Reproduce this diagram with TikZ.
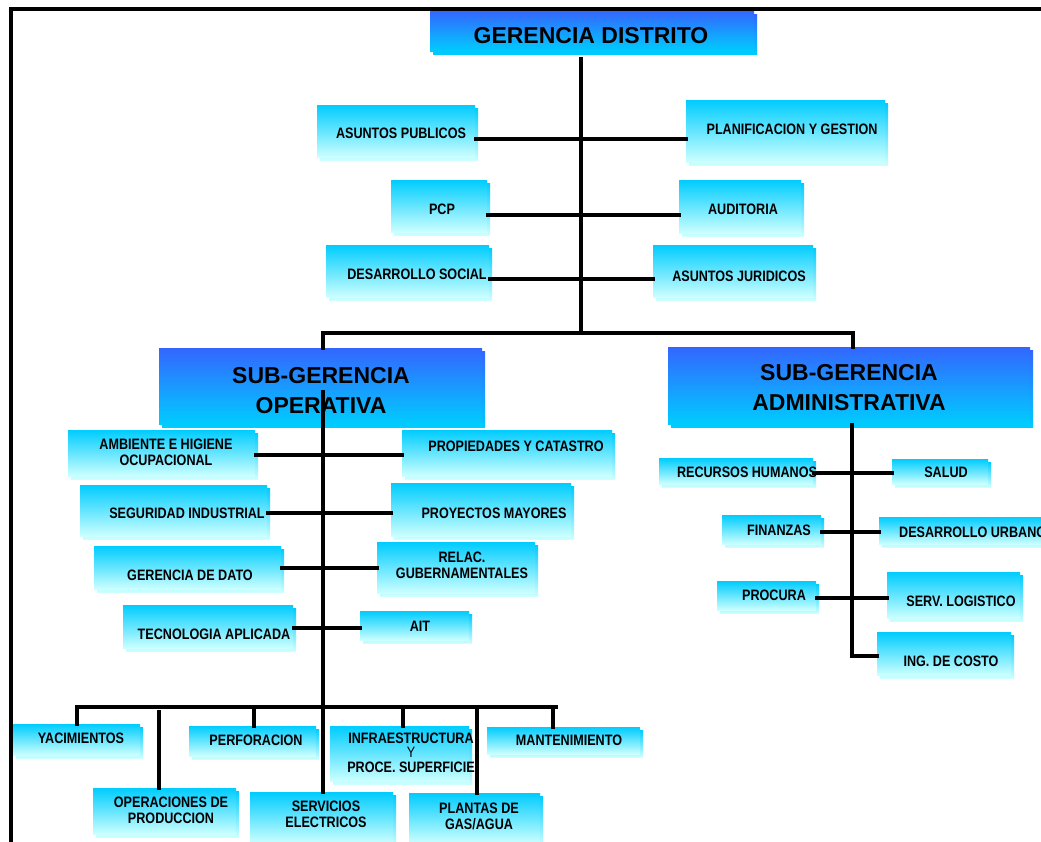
\documentclass[tikz,border=0pt]{standalone}
\usepackage{graphicx}
\usepackage{fontspec}
\setmainfont{Liberation Sans}
\usetikzlibrary{shadows}

\definecolor{boxtop}{HTML}{00CCFF}
\definecolor{boxbot}{HTML}{CCFFFF}
\definecolor{headtop}{HTML}{3366FF}
\definecolor{headbot}{HTML}{00CCFF}

% small unit box: cyan to pale cyan, with an offset copy behind it
\tikzset{
  lbox/.style={rectangle, inner sep=0pt, draw=none,
    top color=boxtop, bottom color=boxbot,
    general shadow={shadow xshift=3pt, shadow yshift=-3pt,
      top color=boxtop, bottom color=boxbot}},
  hbox/.style={rectangle, inner sep=0pt, draw=none,
    top color=headtop, bottom color=headbot,
    general shadow={shadow xshift=3pt, shadow yshift=-3pt,
      top color=headtop, bottom color=headbot}},
  lbl/.style={inner sep=0pt, yshift=-2.2pt, font=\bfseries},
  link/.style={line width=3.4pt, line cap=rect},
}

% \ubox{name}{x1}{y1}{x2}{y2}{style}: box spanning x1..x2, y1..y2 (offset copy included)
\newcommand\ubox[6]{%
  \node[#6, minimum width={#4-#2-3}, minimum height={#5-#3-3}]
    (#1) at ({(#2+#4-3)/2},{(#3+#5-3)/2}) {};}
\newcommand\sm[1]{\scalebox{1}[1.2]{\fontsize{12.6}{13.5}\selectfont
  \begin{tabular}{@{}c@{}}#1\end{tabular}}}
\newcommand\bg[1]{{\fontsize{23}{30}\selectfont
  \begin{tabular}{@{}c@{}}#1\end{tabular}}}

\begin{document}
\begin{tikzpicture}[x=1pt, y=-1pt]
\useasboundingbox (0,0) rectangle (1041,841);
\clip (0,0) rectangle (1041,841);
\fill[white] (0,0) rectangle (1041,841);

% frame
\draw[line width=3.4pt] (11,845) -- (11,9) -- (1045,9);

% ---------- district management ----------
\ubox{gd}{430}{11}{757}{54}{hbox}
\node[lbl] (gd-t) at (591,35) {\bg{GERENCIA DISTRITO}};

\ubox{ap}{317}{105}{478}{160}{lbox}
\ubox{pg}{686}{100}{888}{165}{lbox}
\ubox{pcp}{391}{180}{490}{235}{lbox}
\ubox{aud}{679}{180}{804}{236}{lbox}
\ubox{ds}{326}{245}{492}{300}{lbox}
\ubox{aj}{653}{245}{816}{300}{lbox}

\node[lbl] (ap-t)  at (401,133) {\sm{ASUNTOS PUBLICOS}};
\node[lbl] (pg-t)  at (792,129) {\sm{PLANIFICACION Y GESTION}};
\node[lbl] (pcp-t) at (442,209) {\sm{PCP}};
\node[lbl] (aud-t) at (743,209) {\sm{AUDITORIA}};
\node[lbl] (ds-t)  at (417,274) {\sm{DESARROLLO SOCIAL}};
\node[lbl] (aj-t)  at (739,276) {\sm{ASUNTOS JURIDICOS}};

\coordinate (gtop) at (581,59);
\coordinate (jm) at (581,333);
\coordinate (jl) at (323,333);
\coordinate (jr) at (853,333);

\draw[link] (gtop) -- (jm);
\draw[link] (ap.east |- 0,139) -- (pg.west |- 0,139);
\draw[link] (pcp.east |- 0,215) -- (aud.west |- 0,215);
\draw[link] (ds.east |- 0,279) -- (aj.west |- 0,279);

% ---------- sub-managements ----------
\ubox{sgo}{159}{348}{485}{427}{hbox}
\ubox{sga}{668}{347}{1033}{427}{hbox}
\node[lbl] (sgo-t) at (321,390) {\bg{SUB-GERENCIA\\OPERATIVA}};
\node[lbl] (sga-t) at (849,387) {\bg{SUB-GERENCIA\\ADMINISTRATIVA}};

\draw[link] (sgo.north -| jl) -- (jl) -- (jr) -- (sga.north -| jr);

% ---------- operative branch ----------
\ubox{amb}{68}{430}{258}{479}{lbox}
\ubox{prop}{402}{430}{615}{479}{lbox}
\ubox{seg}{80}{485}{270}{539}{lbox}
\ubox{proy}{391}{483}{574}{539}{lbox}
\ubox{gdd}{94}{546}{284}{592}{lbox}
\ubox{rel}{377}{542}{538}{596}{lbox}
\ubox{tec}{123}{605}{296}{651}{lbox}
\ubox{ait}{360}{611}{472}{643}{lbox}

\node[lbl] (amb-t)  at (166,452) {\sm{AMBIENTE E HIGIENE\\OCUPACIONAL}};
\node[lbl] (prop-t) at (516,446) {\sm{PROPIEDADES Y CATASTRO}};
\node[lbl] (seg-t)  at (187,513) {\sm{SEGURIDAD INDUSTRIAL}};
\node[lbl] (proy-t) at (494,513) {\sm{PROYECTOS MAYORES}};
\node[lbl] (gdd-t)  at (190,575) {\sm{GERENCIA DE DATO}};
\node[lbl] (rel-t)  at (462,565) {\sm{RELAC.\\GUBERNAMENTALES}};
\node[lbl] (tec-t)  at (214,634) {\sm{TECNOLOGIA APLICADA}};
\node[lbl] (ait-t)  at (420,626) {\sm{AIT}};

% bottom row of units
\ubox{yac}{13}{724}{143}{758}{lbox}
\ubox{perf}{189}{726}{319}{759}{lbox}
\ubox{infra}{330}{726}{472}{784}{lbox}
\ubox{mant}{487}{727}{643}{757}{lbox}
\ubox{opp}{93}{788}{239}{837}{lbox}
\ubox{srv}{250}{792}{396}{846}{lbox}
\ubox{pla}{409}{793}{543}{846}{lbox}

\coordinate (os) at (323,392);
\coordinate (bl) at (77,707);
\coordinate (br) at (556,707);
\coordinate (opx) at (159,712);

\draw[link] (os) -- (os |- srv.north);
\draw[link] (bl) -- (br);
\draw[link] (bl) -- (yac.north -| bl);
\draw[link] (opx) -- (opp.north -| opx);
\draw[link] (254,707) -- (perf.north -| 254,0);
\draw[link] (403,707) -- (infra.north -| 403,0);
\draw[link] (553,707) -- (mant.north -| 553,0);
\draw[link] (477,707) -- (pla.north -| 477,0);

\draw[link] (amb.east |- 0,455) -- (prop.west |- 0,455);
\draw[link] (seg.east |- 0,513) -- (proy.west |- 0,513);
\draw[link] (gdd.east |- 0,568) -- (rel.west |- 0,568);
\draw[link] (tec.east |- 0,628) -- (ait.west |- 0,628);

\node[lbl] (yac-t)  at (81,738)  {\sm{YACIMIENTOS}};
\node[lbl] (perf-t) at (256,740) {\sm{PERFORACION}};
\node[lbl] (infra-t) at (411,752.3)
  {\sm{INFRAESTRUCTURA\\[-1.4pt]{\mdseries Y}\\[-1.4pt]PROCE. SUPERFICIE}};
\node[lbl] (mant-t) at (569,740) {\sm{MANTENIMIENTO}};
\node[lbl] (opp-t)  at (171,810) {\sm{OPERACIONES DE\\PRODUCCION}};
\node[lbl] (srv-t)  at (326,814) {\sm{SERVICIOS\\ELECTRICOS}};
\node[lbl] (pla-t)  at (479,816) {\sm{PLANTAS DE\\GAS/AGUA}};

% ---------- administrative branch ----------
\ubox{rh}{659}{458}{816}{487}{lbox}
\ubox{sal}{892}{459}{991}{487}{lbox}
\ubox{fin}{722}{515}{824}{547}{lbox}
\ubox{du}{879}{517}{1060}{547}{lbox}
\ubox{proc}{717}{581}{819}{613}{lbox}
\ubox{serv}{887}{572}{1023}{621}{lbox}
\ubox{ing}{877}{632}{1014}{678}{lbox}

\coordinate (ac) at (852,656);
\draw[link] (sga.south -| ac) -- (ac) -- (ing.west |- ac);
\draw[link] (rh.east |- 0,473) -- (sal.west |- 0,473);
\draw[link] (fin.east |- 0,532) -- (du.west |- 0,532);
\draw[link] (proc.east |- 0,598) -- (serv.west |- 0,598);

\node[lbl] (rh-t)   at (747,472) {\sm{RECURSOS HUMANOS}};
\node[lbl] (sal-t)  at (946,472) {\sm{SALUD}};
\node[lbl] (fin-t)  at (779,530) {\sm{FINANZAS}};
\node[lbl, anchor=west] (du-t) at (899,532) {\sm{DESARROLLO URBANO}};
\node[lbl] (proc-t) at (774,595) {\sm{PROCURA}};
\node[lbl] (serv-t) at (961,601) {\sm{SERV. LOGISTICO}};
\node[lbl] (ing-t)  at (951,661) {\sm{ING. DE COSTO}};
\end{tikzpicture}
\end{document}
